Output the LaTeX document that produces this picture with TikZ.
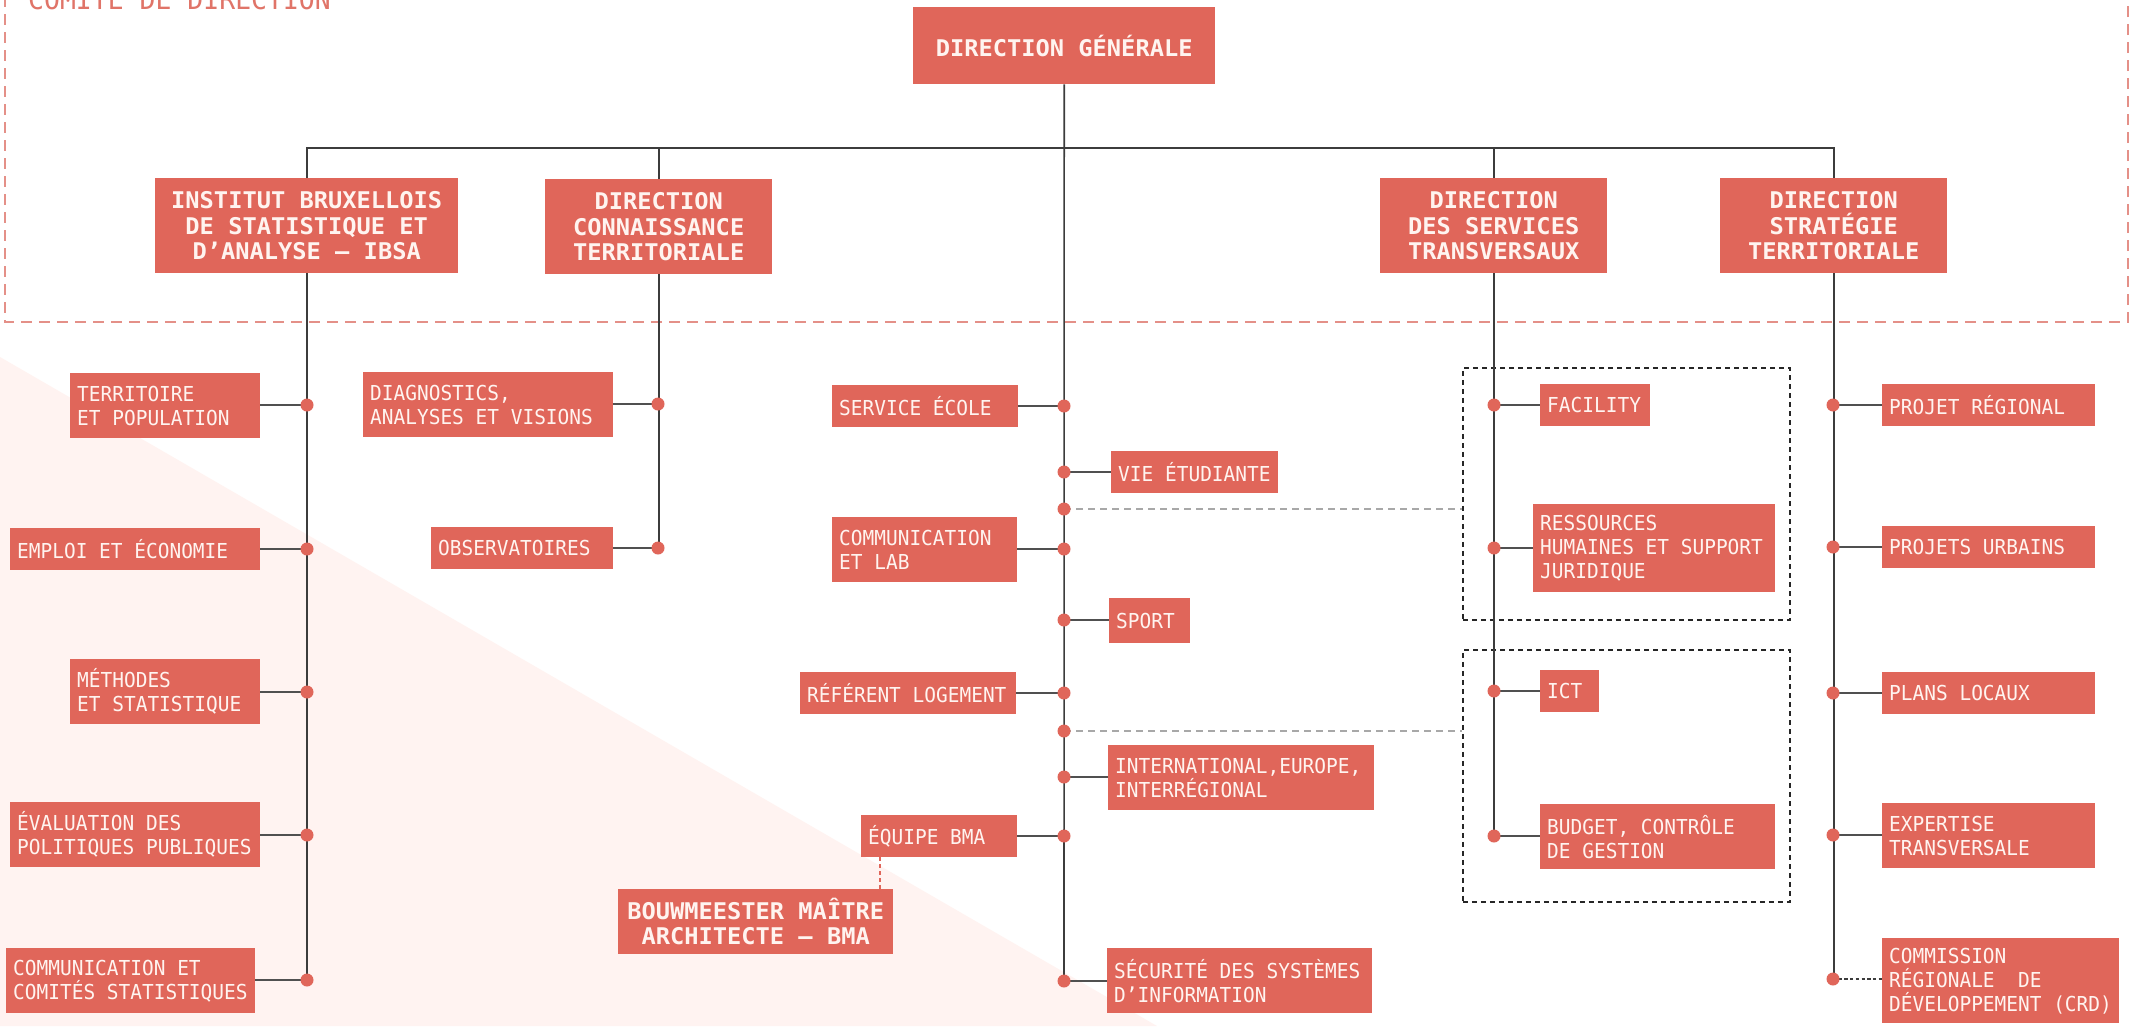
\documentclass[tikz,border=0pt]{standalone}
\usepackage{fontspec}
\newfontfamily\rmono[FakeStretch=0.945]{DejaVu Sans Mono}
\newfontfamily\bmono[FakeStretch=1.03]{DejaVu Sans Mono}
\newcommand\ms{\phantom{M}}
\definecolor{boxc}{HTML}{E0665A}
\definecolor{txtc}{HTML}{FFF4F0}
\definecolor{tric}{HTML}{FFF3F1}
\definecolor{framec}{HTML}{E49088}
\definecolor{labc}{HTML}{E07468}
\definecolor{linec}{HTML}{3C3C3C}
\definecolor{connc}{HTML}{505050}
\definecolor{gdashc}{HTML}{A8A8A8}
\tikzset{
  boxbase/.style={fill=boxc, text=txtc, inner ysep=0pt, anchor=north west},
  sbox/.style={boxbase, inner xsep=7pt, align=left, font=\rmono\fontsize{20.6}{24}\selectfont},
  bboxs/.style={boxbase, inner xsep=4pt, align=center, font=\bmono\bfseries\fontsize{23}{25.5}\selectfont},
  mainline/.style={draw=linec, line width=1.6pt},
  connline/.style={draw=connc, line width=2.4pt},
  gdash/.style={draw=gdashc, line width=2pt, dash pattern=on 7pt off 5pt},
  bdot/.style={draw=linec, line width=1.6pt, dash pattern=on 3.3pt off 2.4pt},
  sdash/.style={draw=boxc, line width=1.3pt, dash pattern=on 4pt off 3pt},
  grpbox/.style={draw=black!85, line width=1.8pt, dash pattern=on 5pt off 4pt, inner sep=0pt, anchor=north west},
  framebox/.style={draw=framec, line width=1.5pt, dash pattern=on 11pt off 7pt},
}
\newcommand\obox[7][]{%
  \pgfmathsetmacro\bw{#5-#3}\pgfmathsetmacro\bh{#6-#4}\pgfmathsetmacro\tw{#5-#3-14}%
  \node[sbox,#1,minimum width=\bw pt,minimum height=\bh pt,text width=\tw pt] (#2) at (#3,#4) {#7};}
\newcommand\bbx[6]{%
  \pgfmathsetmacro\bw{#4-#2}\pgfmathsetmacro\bh{#5-#3}\pgfmathsetmacro\tw{#4-#2-8}%
  \node[bboxs,minimum width=\bw pt,minimum height=\bh pt,text width=\tw pt] (#1) at (#2,#3) {#6};}
\begin{document}
\begin{tikzpicture}[x=1pt,y=-1pt]
\useasboundingbox (0,0) rectangle (2140,1026);
\clip (0,0) rectangle (2140,1026);
% background
\fill[white] (0,0) rectangle (2140,1026);
\fill[tric] (0,357) -- (1157,1026) -- (0,1026) -- cycle;
% comite frame
\draw[framebox] (5,-40) rectangle (2128,322);
\node[anchor=base west, inner sep=0pt, text=labc, font=\rmono\fontsize{28}{30}\selectfont] (cdlabel) at (28,9) {COMITÉ\ms DE\ms DIRECTION};
% groups
\node[grpbox, minimum width=327pt, minimum height=252pt] (grp1) at (1462,367) {};
\node[grpbox, minimum width=327pt, minimum height=252pt] (grp2) at (1462,649) {};
% top boxes
\bbx{dg}{913}{7}{1215}{84}{DIRECTION\ms GÉNÉRALE}
\bbx{ibsa}{155}{178}{458}{273}{INSTITUT\ms BRUXELLOIS\\DE\ms STATISTIQUE\ms ET\\D’ANALYSE\ms –\ms IBSA}
\bbx{dct}{545}{179}{772}{274}{DIRECTION\\CONNAISSANCE\\TERRITORIALE}
\bbx{dst}{1380}{178}{1607}{273}{DIRECTION\\DES\ms SERVICES\\TRANSVERSAUX}
\bbx{dstr}{1720}{178}{1947}{273}{DIRECTION\\STRATÉGIE\\TERRITORIALE}
\bbx{bma}{618}{889}{893}{954}{BOUWMEESTER\ms MAÎTRE\\ARCHITECTE\ms –\ms BMA}
% IBSA column
\obox{terr}{70}{373}{260}{438}{TERRITOIRE\\ET\ms POPULATION}
\obox{empl}{10}{528}{260}{570}{EMPLOI\ms ET\ms ÉCONOMIE}
\obox{meth}{70}{659}{260}{724}{MÉTHODES\\ET\ms STATISTIQUE}
\obox{eval}{10}{802}{260}{867}{ÉVALUATION\ms DES\\POLITIQUES\ms PUBLIQUES}
\obox{comm}{6}{948}{255}{1013}{COMMUNICATION\ms ET\\COMITÉS\ms STATISTIQUES}
% DCT column
\obox{diag}{363}{372}{613}{437}{DIAGNOSTICS,\\ANALYSES\ms ET\ms VISIONS}
\obox{obs}{431}{527}{613}{569}{OBSERVATOIRES}
% central column
\obox{ecole}{832}{385}{1018}{427}{SERVICE\ms ÉCOLE}
\obox{clab}{832}{517}{1017}{582}{COMMUNICATION\\ET\ms LAB}
\obox{logt}{800}{672}{1016}{714}{RÉFÉRENT\ms LOGEMENT}
\obox{eqbma}{861}{815}{1017}{857}{ÉQUIPE\ms BMA}
\obox[inner xsep=6pt]{vie}{1111}{451}{1278}{493}{VIE\ms ÉTUDIANTE}
\obox[inner xsep=6pt]{sport}{1109}{598}{1190}{643}{SPORT}
\obox[inner xsep=6pt]{intl}{1108}{745}{1374}{810}{INTERNATIONAL,EUROPE,\\INTERRÉGIONAL}
\obox[inner xsep=6pt]{secu}{1107}{948}{1372}{1013}{SÉCURITÉ\ms DES\ms SYSTÈMES\\D’INFORMATION}
% DST column
\obox{fac}{1540}{384}{1650}{426}{FACILITY}
\obox{rh}{1533}{504}{1775}{592}{RESSOURCES\\HUMAINES\ms ET\ms SUPPORT\\JURIDIQUE}
\obox{ict}{1540}{670}{1599}{712}{ICT}
\obox{budg}{1540}{804}{1775}{869}{BUDGET,\ms CONTRÔLE\\DE\ms GESTION}
% DStrat column
\obox{preg}{1882}{384}{2095}{426}{PROJET\ms RÉGIONAL}
\obox{purb}{1882}{526}{2095}{568}{PROJETS\ms URBAINS}
\obox{ploc}{1882}{672}{2095}{714}{PLANS\ms LOCAUX}
\obox{expt}{1882}{803}{2095}{868}{EXPERTISE\\TRANSVERSALE}
\obox[inner xsep=6pt]{crd}{1882}{938}{2119}{1023}{COMMISSION\\RÉGIONALE\ms\ms DE\\DÉVELOPPEMENT\ms (CRD)}
% dot coordinates
\coordinate (i1) at (307,405); \coordinate (i2) at (307,549); \coordinate (i3) at (307,692);
\coordinate (i4) at (307,835); \coordinate (i5) at (307,980);
\coordinate (k1) at (658,404); \coordinate (k2) at (658,548);
\coordinate (c1) at (1064,406); \coordinate (c2) at (1064,472); \coordinate (c3) at (1064,509);
\coordinate (c4) at (1064,549); \coordinate (c5) at (1064,620); \coordinate (c6) at (1064,693);
\coordinate (c7) at (1064,731); \coordinate (c8) at (1064,777); \coordinate (c9) at (1064,836);
\coordinate (c10) at (1064,981);
\coordinate (t1) at (1494,405); \coordinate (t2) at (1494,548); \coordinate (t3) at (1494,691);
\coordinate (t4) at (1494,836);
\coordinate (s1) at (1833,405); \coordinate (s2) at (1833,547); \coordinate (s3) at (1833,693);
\coordinate (s4) at (1833,835); \coordinate (s5) at (1833,979);
\coordinate (bar) at (307,148);
% top connectors
\draw[mainline] (ibsa.north) -- (ibsa.north |- bar) -- (dstr.north |- bar) -- (dstr.north);
\draw[mainline] (dct.north) -- (dct.north |- bar);
\draw[mainline] (dst.north) -- (dst.north |- bar);
\draw[mainline] (dg.south) -- (c10);
% column lines
\draw[mainline] (ibsa.south) -- (ibsa.south |- i5);
\draw[mainline] (dct.south) -- (dct.south |- k2);
\draw[mainline] (dst.south) -- (dst.south |- t4);
\draw[mainline] (dstr.south) -- (dstr.south |- s5);
% horizontal connectors
\draw[connline] (i1) -- (terr.east |- i1);
\draw[connline] (i2) -- (empl.east |- i2);
\draw[connline] (i3) -- (meth.east |- i3);
\draw[connline] (i4) -- (eval.east |- i4);
\draw[connline] (i5) -- (comm.east |- i5);
\draw[connline] (k1) -- (diag.east |- k1);
\draw[connline] (k2) -- (obs.east |- k2);
\draw[connline] (c1) -- (ecole.east |- c1);
\draw[connline] (c2) -- (vie.west |- c2);
\draw[connline] (c4) -- (clab.east |- c4);
\draw[connline] (c5) -- (sport.west |- c5);
\draw[connline] (c6) -- (logt.east |- c6);
\draw[connline] (c8) -- (intl.west |- c8);
\draw[connline] (c9) -- (eqbma.east |- c9);
\draw[connline] (c10) -- (secu.west |- c10);
\draw[connline] (t1) -- (fac.west |- t1);
\draw[connline] (t2) -- (rh.west |- t2);
\draw[connline] (t3) -- (ict.west |- t3);
\draw[connline] (t4) -- (budg.west |- t4);
\draw[connline] (s1) -- (preg.west |- s1);
\draw[connline] (s2) -- (purb.west |- s2);
\draw[connline] (s3) -- (ploc.west |- s3);
\draw[connline] (s4) -- (expt.west |- s4);
\draw[bdot] (s5) -- (crd.west |- s5);
\draw[gdash] (c3) -- (grp1.west |- c3);
\draw[gdash] (c7) -- (grp2.west |- c7);
\draw[sdash] ([xshift=19pt]eqbma.south west) -- ([xshift=19pt]eqbma.south west |- bma.north);
% dots
\foreach \d in {i1,i2,i3,i4,i5,k1,k2,c1,c2,c3,c4,c5,c6,c7,c8,c9,c10,t1,t2,t3,t4,s1,s2,s3,s4,s5}
  \fill[boxc] (\d) circle (6.5pt);
\end{tikzpicture}
\end{document}
